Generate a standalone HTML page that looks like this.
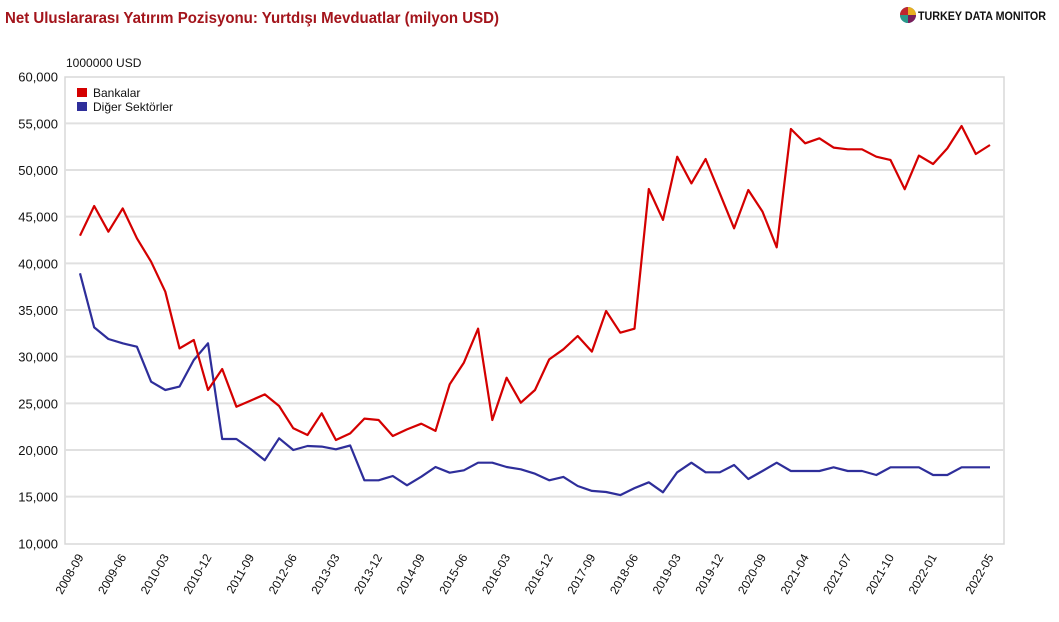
<!DOCTYPE html>
<html><head><meta charset="utf-8">
<style>
body{margin:0;background:#fff;width:1059px;height:622px;overflow:hidden;font-family:"Liberation Sans",sans-serif;}
svg{display:block}
</style></head>
<body>
<svg id="chart" width="1059" height="622" xmlns="http://www.w3.org/2000/svg">
<text x="5" y="23" font-size="15.5" font-weight="bold" fill="#a3141b" textLength="494" lengthAdjust="spacingAndGlyphs">Net Uluslararası Yatırım Pozisyonu: Yurtdışı Mevduatlar (milyon USD)</text>
<g>
<circle cx="908" cy="15" r="8" fill="#3a6fb0"/>
<path d="M908 15 L908 7 A8 8 0 0 1 916 15 Z" fill="#e8b020"/>
<path d="M908 15 L916 15 A8 8 0 0 1 908 23 Z" fill="#7a1e5a"/>
<path d="M908 15 L908 23 A8 8 0 0 1 900 15 Z" fill="#2a9a8a"/>
<path d="M908 15 L900 15 A8 8 0 0 1 908 7 Z" fill="#c0282e"/>
<text x="918" y="20" font-size="12" font-weight="bold" fill="#111" textLength="128" lengthAdjust="spacingAndGlyphs">TURKEY DATA MONITOR</text>
</g>
<text x="66" y="67" font-size="12" fill="#111">1000000 USD</text>
<rect x="65" y="77" width="939" height="467" fill="none" stroke="#d8d8d8" stroke-width="1.5"/>
<g id="grid"></g>
<g id="ylabels"></g>
<g id="xlabels"></g>
<g id="lines"></g>
<g>
<rect x="77" y="88" width="10" height="9" fill="#d40000"/>
<text x="93" y="97" font-size="12" fill="#111">Bankalar</text>
<rect x="77" y="102" width="10" height="9" fill="#2e2e9a"/>
<text x="93" y="111" font-size="12" fill="#111">Diğer Sektörler</text>
</g>
</svg>
<script>
const categories = (function(){
  const c=[];
  for(let y=2008,m=9; !(y===2021&&m===6); ){ c.push(y+'-'+String(m).padStart(2,'0')); m+=3; if(m>12){m-=12;y++;} }
  for(let y=2021,m=4; !(y===2022&&m===6); ){ c.push(y+'-'+String(m).padStart(2,'0')); m++; if(m>12){m=1;y++;} }
  return c;
})();
const bankalar = [42960,46140,43390,45890,42680,40180,36960,30890,31790,26430,28680,24640,25290,25960,24710,22320,21610,23930,21070,21780,23360,23210,21500,22210,22820,22040,27040,29360,33000,23210,27750,25070,26430,29710,30790,32210,30540,34890,32570,33000,47970,44650,51430,48570,51180,47500,43760,47860,45540,41720,54400,52860,53400,52400,52220,52220,51430,51070,47940,51540,50650,52320,54720,51720,52680];
const diger = [38930,33140,31890,31430,31070,27320,26430,26790,29640,31430,21180,21180,20100,18900,21250,20000,20430,20360,20070,20480,16750,16750,17210,16210,17140,18180,17570,17820,18640,18640,18180,17930,17460,16750,17110,16140,15620,15500,15160,15920,16540,15460,17610,18640,17610,17610,18390,16890,17750,18640,17750,17750,17750,18140,17750,17750,17320,18140,18140,18140,17320,17320,18140,18140,18140];
const yTicks = [10000,15000,20000,25000,30000,35000,40000,45000,50000,55000,60000];
const xLabelIdx = [0,3,6,9,12,15,18,21,24,27,30,33,36,39,42,45,48,51,54,57,60,64];

const NS='http://www.w3.org/2000/svg';
const x0=80, x1=990, yTop=76.7, yBot=543.3, vMin=10000, vMax=60000;
function xs(i){return x0+(x1-x0)*i/(categories.length-1);}
function ys(v){return yBot-(v-vMin)/(vMax-vMin)*(yBot-yTop);}
function mk(tag,attrs,parent){const e=document.createElementNS(NS,tag);for(const k in attrs)e.setAttribute(k,attrs[k]);parent.appendChild(e);return e;}
const grid=document.getElementById('grid'), yl=document.getElementById('ylabels'), xl=document.getElementById('xlabels'), lines=document.getElementById('lines');
yTicks.forEach(v=>{
  if(v>vMin&&v<vMax){
    const g=mk('line',{x1:65,x2:1004,y1:ys(v),y2:ys(v),stroke:'#e0e0e0','stroke-width':2},grid);
    
    
  }
  const t=mk('text',{x:58,y:ys(v)+5,'font-size':13,'text-anchor':'end',fill:'#111'},yl);
  t.textContent=v.toLocaleString('en-US');
  
  
});
xLabelIdx.forEach(i=>{
  const x=xs(i)+4, y=557;
  const t=mk('text',{x:x,y:y,'font-size':12,'text-anchor':'end',fill:'#111',transform:'rotate(-60 '+x+' '+y+')'},xl);
  t.textContent=categories[i];
  
  
});
function drawLine(vals,color,name){
  const p=mk('polyline',{points:vals.map((v,i)=>xs(i).toFixed(1)+','+ys(v).toFixed(1)).join(' '),fill:'none',stroke:color,'stroke-width':2.2,'stroke-linejoin':'round'},lines);
  
  
}
drawLine(diger,'#2e2e9a','line-diger-sektorler');
drawLine(bankalar,'#d40000','line-bankalar');
</script>
</body></html>
